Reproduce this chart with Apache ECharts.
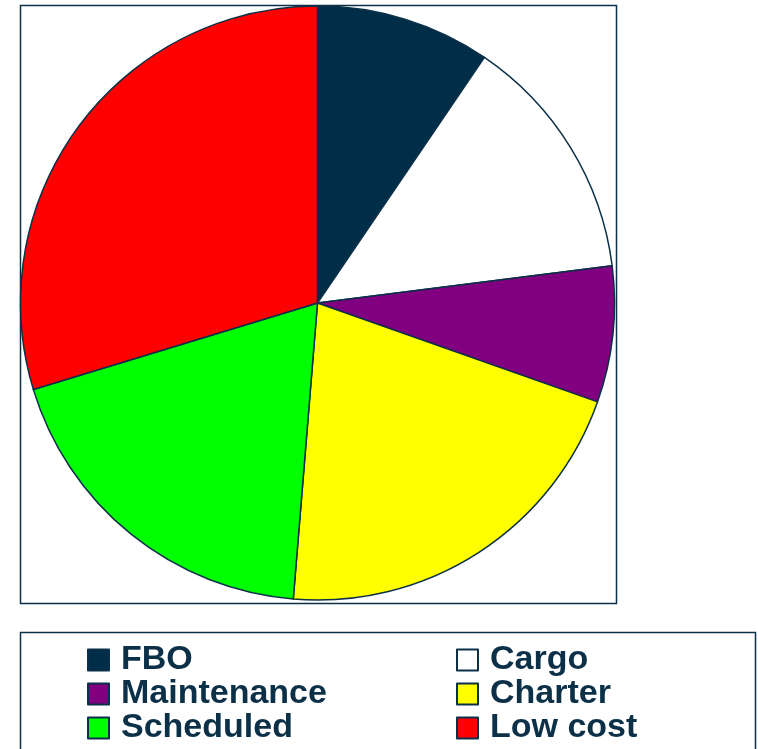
<!DOCTYPE html>
<html><head><meta charset="utf-8">
<script src="https://cdn.jsdelivr.net/npm/echarts@6/dist/echarts.min.js"></script>
<style>html,body{margin:0;padding:0;background:#fff}#c{width:758px;height:749px}</style>
</head><body><div id="c"></div>
<script>
const categories = ['FBO', 'Cargo', 'Maintenance', 'Charter', 'Scheduled', 'Low cost'];
const values = [9.5, 13.5, 7.4, 20.9, 19.0, 29.7];
const colors = ['#002D47', '#FFFFFF', '#800080', '#FFFF00', '#00FF00', '#FF0000'];
const leftCol = ['FBO', 'Maintenance', 'Scheduled'];
const rightCol = ['Cargo', 'Charter', 'Low cost'];

const navy = '#0B3048';
const chart = echarts.init(document.getElementById('c'), null, {renderer: 'canvas'});
const legendText = {color: navy, fontSize: 34, lineHeight: 34, fontWeight: 'bold', fontFamily: 'Liberation Sans, Arial, sans-serif', padding: [0, 0, 0, 7]};
chart.setOption({
  animation: false,
  graphic: [
    {type: 'rect', shape: {x: 20.5, y: 5.5, width: 596, height: 598}, style: {fill: 'none', stroke: navy, lineWidth: 1.5}, z: 0},
    {type: 'rect', shape: {x: 20.5, y: 632.5, width: 735, height: 140}, style: {fill: 'none', stroke: navy, lineWidth: 1.5}, z: 0}
  ],
  legend: [
    {data: leftCol, orient: 'vertical', left: 87, top: 643, padding: 0, itemWidth: 21, itemHeight: 21, itemGap: 0, textStyle: legendText, icon: 'rect', selectedMode: false},
    {data: rightCol, orient: 'vertical', left: 456, top: 643, padding: 0, itemWidth: 21, itemHeight: 21, itemGap: 0, textStyle: legendText, icon: 'rect', selectedMode: false}
  ],
  series: [{
    type: 'pie',
    center: [317.5, 303],
    radius: 297,
    startAngle: 90,
    clockwise: true,
    label: {show: false},
    labelLine: {show: false},
    emphasis: {disabled: true},
    itemStyle: {borderColor: navy, borderWidth: 1.5},
    data: categories.map((n, i) => ({name: n, value: values[i], itemStyle: {color: colors[i]}}))
  }]
});
</script></body></html>
